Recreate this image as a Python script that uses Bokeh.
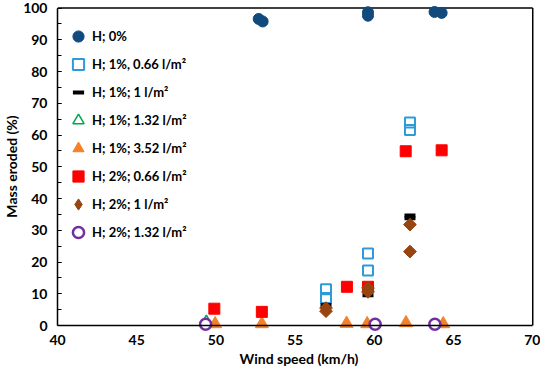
from bokeh.plotting import figure
from bokeh.models import Range1d, SingleIntervalTicker, Legend, LegendItem, LinearAxis, Title
from bokeh.embed import file_html
from bokeh.resources import INLINE

# ---- data ----
h0_x = [52.7, 52.95, 59.6, 59.6, 63.8, 64.25]
h0_y = [96.6, 95.8, 98.7, 97.6, 98.8, 98.5]

b1_x = [56.95, 56.95, 59.6, 59.6, 62.25, 62.25]
b1_y = [11.4, 8.7, 22.7, 17.3, 64.0, 61.6]

k1_x = [56.95, 59.6, 62.25, 62.25]
k1_y = [6.5, 9.5, 34.7, 33.8]

g1_x = [49.4]
g1_y = [1.3]

o1_x = [49.95, 52.9, 58.25, 59.55, 62.0, 64.35]
o1_y = [0.5, 0.5, 0.6, 0.5, 0.8, 0.5]

r2_x = [49.9, 52.9, 58.27, 59.6, 61.98, 64.25]
r2_y = [5.3, 4.3, 12.2, 12.2, 54.9, 55.2]

d2_x = [56.95, 56.95, 59.6, 59.6, 62.25, 62.25]
d2_y = [5.5, 4.5, 11.8, 10.6, 31.8, 23.3]

p2_x = [49.35, 60.05, 63.82]
p2_y = [0.4, 0.4, 0.4]

labels = ["H; 0%", "H; 1%, 0.66 l/m\u00b2", "H; 1%; 1 l/m\u00b2", "H; 1%; 1.32 l/m\u00b2",
          "H; 1%; 3.52 l/m\u00b2", "H; 2%; 0.66 l/m\u00b2", "H; 2%; 1 l/m\u00b2", "H; 2%; 1.32 l/m\u00b2"]

X_MIN, X_MAX = 40, 70
Y_MIN, Y_MAX = 0, 100

FONT = "Lato"

p = figure(width=540, height=366, output_backend="svg", toolbar_location=None,
           x_range=Range1d(X_MIN, 70.49), y_range=Range1d(-2.2, 102.4),
           min_border_left=42, min_border_right=0, min_border_top=0, min_border_bottom=20)
p.grid.visible = False
p.outline_line_color = None

# frame box (top and right sides)
p.line([X_MIN, X_MAX], [Y_MAX, Y_MAX], line_color="black", line_width=1.5)
p.line([X_MAX, X_MAX], [Y_MIN, Y_MAX], line_color="black", line_width=1.5)

r_h0 = p.scatter(h0_x, h0_y, marker="circle", size=11, fill_color="#114A7C", line_color="#114A7C")
r_b1 = p.scatter(b1_x, b1_y, marker="square", size=10, fill_color=None, line_color="#2E9BD6", line_width=2)
r_k1 = p.scatter(k1_x, k1_y, marker="dash", size=11, line_color="black", line_width=4)
r_g1 = p.scatter(g1_x, g1_y, marker="triangle", size=11, fill_color=None, line_color="#00A550", line_width=1.5)
r_o1 = p.scatter(o1_x, o1_y, marker="triangle", size=13, fill_color="#F4812A", line_color="#F4812A")
r_r2 = p.scatter(r2_x, r2_y, marker="square", size=11, fill_color="#FF0000", line_color="#FF0000")
r_d2 = p.scatter(d2_x, d2_y, marker="square", angle=0.785398, size=9, fill_color="#98440F", line_color="#98440F")
# same series drawn as a diamond marker, used only for the legend swatch
r_d2_leg = p.scatter(d2_x, d2_y, marker="diamond", size=12, fill_color="#98440F", line_color="#98440F", visible=False)
r_p2 = p.scatter(p2_x, p2_y, marker="circle", size=11, fill_color="white", line_color="#7030A0", line_width=2.5)

rends = [r_h0, r_b1, r_k1, r_g1, r_o1, r_r2, r_d2_leg, r_p2]
legend = Legend(items=[LegendItem(label=l, renderers=[r]) for l, r in zip(labels, rends)],
                location=(7, 86), background_fill_alpha=0, border_line_color=None,
                glyph_height=28, glyph_width=28, label_height=28, spacing=0,
                padding=5, margin=0, label_standoff=-9,
                inactive_fill_alpha=0,
                label_text_font=FONT, label_text_font_style="bold", label_text_font_size="13px",
                label_text_color="black")
p.add_layout(legend)

def style_axis(ax):
    ax.axis_line_color = "black"
    ax.axis_line_width = 1.5
    ax.major_tick_line_color = "black"
    ax.minor_tick_line_color = "black"
    ax.major_tick_in = 4
    ax.major_tick_out = 0
    ax.minor_tick_in = 4
    ax.minor_tick_out = 0
    ax.major_label_text_font = FONT
    ax.major_label_text_font_style = "bold"
    ax.major_label_text_font_size = "14px"
    ax.major_label_text_color = "black"
    ax.axis_label_text_font = FONT
    ax.axis_label_text_font_style = "bold"
    ax.axis_label_text_font_size = "14px"
    ax.axis_label_text_color = "black"

# x axis line + unit ticks pinned at y = 0 (majors fall outside the bounds, so no labels here)
xa = p.xaxis[0]
style_axis(xa)
xa.ticker = SingleIntervalTicker(interval=1000, num_minor_ticks=1000)
xa.bounds = (X_MIN, X_MAX)
xa.fixed_location = Y_MIN
xa.major_label_standoff = 0

# tick labels of the x axis
xb = LinearAxis(ticker=SingleIntervalTicker(interval=5), bounds=(X_MIN, X_MAX))
style_axis(xb)
xb.axis_line_color = None
xb.major_tick_line_color = None
xb.minor_tick_line_color = None
xb.major_label_standoff = 2
p.add_layout(xb, "below")

# x axis title
p.add_layout(Title(text="Wind speed (km/h)", align="center", offset=-4, standoff=0,
                   text_font=FONT, text_font_style="bold", text_font_size="14px",
                   text_color="black"), "below")

ya = p.yaxis[0]
style_axis(ya)
ya.ticker = SingleIntervalTicker(interval=10, num_minor_ticks=2)
ya.bounds = (Y_MIN, Y_MAX)
ya.axis_label = "Mass eroded (%)"
ya.major_label_standoff = 10
ya.axis_label_standoff = 0

open("out.html", "w").write(file_html(p, INLINE))
